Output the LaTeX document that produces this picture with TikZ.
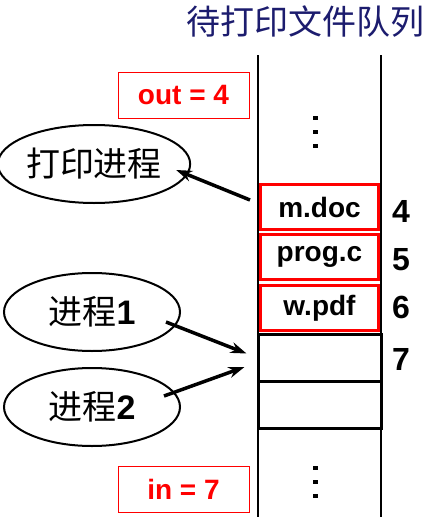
\documentclass[tikz,border=0pt]{standalone}
\usepackage{fontspec}
\setmainfont{Liberation Sans}
\newfontfamily\cjk{Noto Sans CJK SC}
\usetikzlibrary{shapes.geometric,arrows.meta}
\definecolor{titleblue}{RGB}{28,28,110}
\tikzstyle{cell}=[line width=3pt,inner sep=0pt,font=\fontsize{28}{30}\selectfont\bfseries]
\tikzstyle{redcell}=[cell,draw=red,minimum width=118pt,minimum height=45.5pt]
\tikzstyle{blackcell}=[cell,draw=black,minimum width=123pt,minimum height=47pt]
\tikzstyle{idx}=[font=\fontsize{32}{34}\selectfont\bfseries]
\tikzstyle{ptr}=[draw=red,line width=0.9pt,minimum width=131pt,minimum height=46pt,text=red,font=\fontsize{28}{30}\selectfont\bfseries]
\tikzstyle{proc}=[ellipse,draw,line width=2pt,minimum width=176pt,minimum height=78pt,inner sep=0pt,font=\fontsize{34}{36}\selectfont]
\tikzstyle{arr}=[line width=3.5pt,-{Stealth[length=16pt,width=11pt]}]

\begin{document}
\begin{tikzpicture}[x=1pt,y=-1pt]
    \useasboundingbox (0,0) rectangle (435,525);
    \node[text=titleblue,font=\fontsize{34}{36}\selectfont\cjk] (title) at (305,22) {待打印文件队列};

    % queue walls
    \coordinate (ltop) at (258,55);
    \coordinate (lbot) at (258,517);
    \coordinate (rtop) at (381,55);
    \coordinate (rbot) at (381,517);
    \draw [line width=2.8pt] (ltop) -- (lbot);
    \draw [line width=2.8pt] (rtop) -- (rbot);

    % cells
    \node[redcell] (mdoc) at (319.5,207) {m.doc};
    \node[redcell] (progc) at (319.5,257) {prog.c};
    \node[redcell] (wpdf) at (319.5,308) {w.pdf};
    \node[blackcell] (free1) at (319.5,357.5) {};
    \node[blackcell] (free2) at (319.5,404.5) {};
    \node[idx] (i4) at (401,211) {4};
    \node[idx] (i5) at (401,260) {5};
    \node[idx] (i6) at (401,307) {6};
    \node[idx] (i7) at (401,359) {7};

    % dots
    \foreach \y in {118,132,146} \fill (313,\y-2.25) rectangle ++(4.5,4.5);
    \foreach \y in {468,482,496} \fill (313,\y-2.25) rectangle ++(4.5,4.5);

    % pointers
    \node[ptr] (out) at (183.5,95) {out = 4};
    \node[ptr] (in) at (183.5,489) {in = 7};

    % processes
    \node[proc] (printer) at (94,164) {\cjk 打印进程};
    \node[proc] (p1) at (92,312) {{\cjk 进程}\textbf{1}};
    \node[proc] (p2) at (92,407) {{\cjk 进程}\textbf{2}};

    \draw [arr] ([shift={(-9,-7)}]mdoc.west) -- ([shift={(-15,6)}]printer.east);
    \draw [arr] ([shift={(-15,10)}]p1.east) -- ([shift={(-10,-4)}]free1.west);
    \draw [arr] ([shift={(-17,-11)}]p2.east) -- ([shift={(-12,9.5)}]free1.west);
\end{tikzpicture}
\end{document}
